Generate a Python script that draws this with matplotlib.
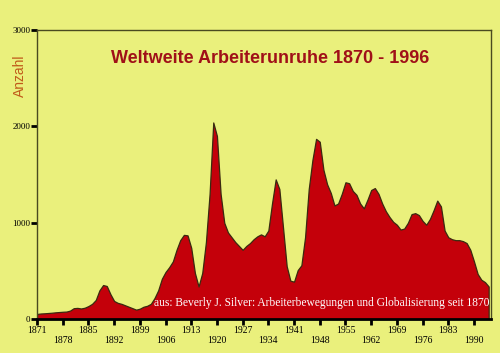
import matplotlib.pyplot as plt
import numpy as np

years = np.arange(1871, 1995)
anzahl = [55, 60, 62, 65, 68, 72, 75, 78, 80, 90,
          115, 118, 112, 120, 137, 160, 200, 300, 355, 345,
          260, 190, 170, 160, 145, 130, 115, 100, 110, 130,
          140, 160, 220, 300, 420, 490, 540, 600, 720, 820,
          875, 870, 740, 480, 340, 480, 800, 1300, 2040, 1900,
          1300, 1000, 900, 850, 800, 760, 720, 760, 790, 830,
          860, 880, 860, 920, 1200, 1450, 1350, 950, 550, 400,
          390, 510, 560, 850, 1350, 1650, 1870, 1840, 1550, 1400,
          1310, 1180, 1200, 1300, 1420, 1410, 1330, 1290, 1200, 1150,
          1240, 1340, 1360, 1300, 1200, 1120, 1060, 1010, 980, 930,
          940, 1000, 1090, 1100, 1080, 1020, 980, 1040, 1130, 1230,
          1170, 920, 850, 830, 820, 820, 810, 790, 720, 600,
          470, 410, 385, 340]

tick_years = list(range(1871, 1991, 7))
y_ticks = [0, 1000, 2000, 3000]

bg = '#eaf07c'
fig = plt.figure(figsize=(5, 3.53), dpi=100, facecolor=bg)
ax = fig.add_axes([0.074, 0.0955, 0.907, 0.82])
ax.set_facecolor(bg)

ax.fill_between(years, anzahl, 0, color='#c4000a', edgecolor='#3a2a10', linewidth=0.9)

ax.set_xlim(1871, 1994.5)
ax.set_ylim(0, 3000)

ax.set_xticks(tick_years)
ax.set_xticklabels([str(y) if i % 2 == 0 else '\n' + str(y) for i, y in enumerate(tick_years)],
                   family='Liberation Serif', fontsize=7, linespacing=1.1)
ax.set_yticks(y_ticks)
ax.set_yticklabels([str(v) for v in y_ticks], family='Liberation Serif', fontsize=6.5)
ax.tick_params(axis='both', direction='out', length=4, width=2, color='black', pad=1)

for s in ['top', 'right', 'left']:
    ax.spines[s].set_color('#4a4a20')
    ax.spines[s].set_linewidth(1.0)
ax.spines['bottom'].set_color('black')
ax.spines['bottom'].set_linewidth(2)

ax.set_ylabel('Anzahl', color='#c05a1a', fontsize=10, family='Liberation Sans', labelpad=2)
ax.yaxis.set_label_coords(-0.022, 0.84)

ax.text(0.515, 0.9, 'Weltweite Arbeiterunruhe 1870 - 1996', transform=ax.transAxes,
        ha='center', va='center', color='#a01018', fontsize=13, fontweight='bold',
        family='Liberation Sans')
ax.text(0.997, 0.055, 'aus: Beverly J. Silver: Arbeiterbewegungen und Globalisierung seit 1870',
        transform=ax.transAxes, ha='right', va='center', color='white', fontsize=8.3,
        family='Liberation Serif')

fig.savefig('out.png', dpi=100, facecolor=bg)
